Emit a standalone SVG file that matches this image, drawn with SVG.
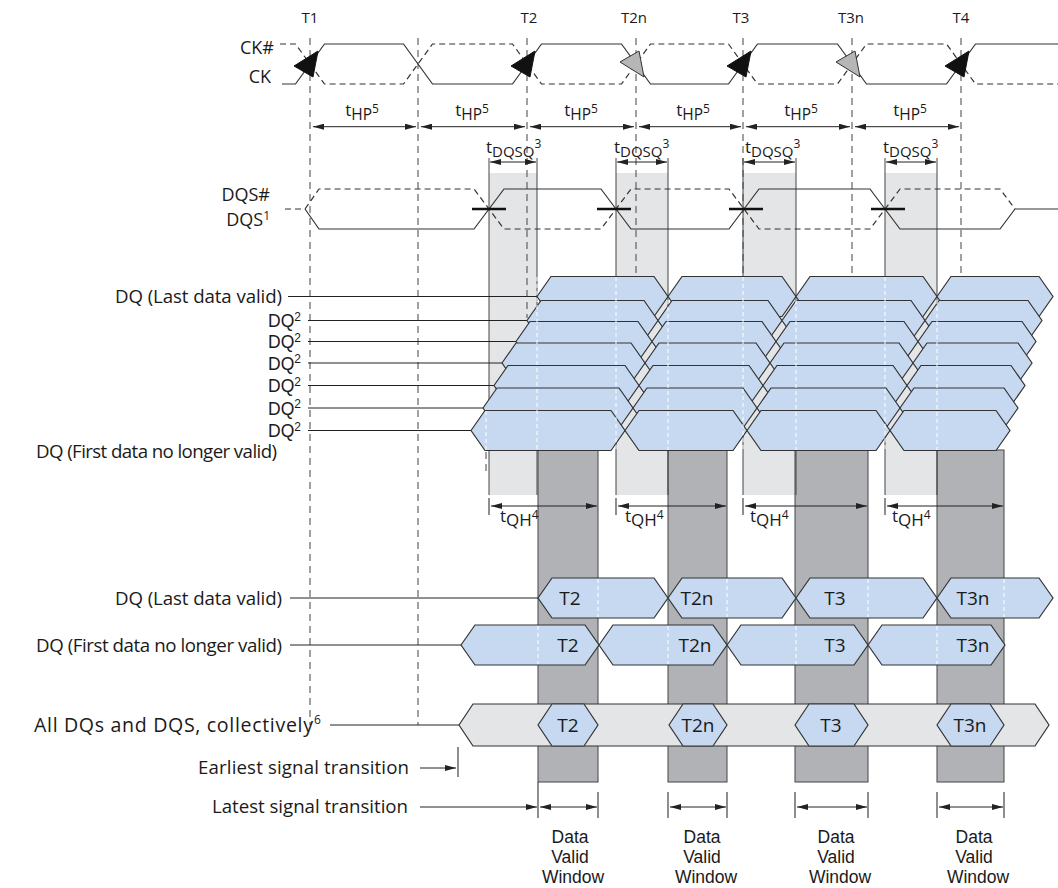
<svg xmlns="http://www.w3.org/2000/svg" width="1058" height="888" viewBox="0 0 1058 888">
<defs>
<style>
.ln{stroke:#333;stroke-width:1.2;fill:none}
.dsh{stroke:#333;stroke-width:1.2;fill:none;stroke-dasharray:6 4}
.vd{stroke:#444;stroke-width:1;fill:none;stroke-dasharray:7 5}
.edge{stroke:#444;stroke-width:1;fill:none}
.lg{fill:#e4e5e7}
.dg{fill:#b1b2b6;stroke:#444;stroke-width:1}
.hx{fill:#c6d9f0;stroke:#333;stroke-width:1.2}
.ghx{fill:#e4e5e7;stroke:#333;stroke-width:1.2}
.wd{stroke:#fff;stroke-width:1;stroke-dasharray:4 3;fill:none}
.ld{stroke:#222;stroke-width:1;fill:none}
.arr{stroke:#222;stroke-width:1;fill:none;marker-start:url(#ah);marker-end:url(#ah)}
.arr1{stroke:#222;stroke-width:1;fill:none;marker-end:url(#ah)}
.tick{stroke:#444;stroke-width:1.2;fill:none}
.lbl{font-family:"Open Sans","Liberation Sans",sans-serif;font-size:18.7px;fill:#1a1a1a}
.big{font-family:"Open Sans","Liberation Sans",sans-serif;font-size:19.6px;fill:#1a1a1a}
.sup{font-family:"Open Sans","Liberation Sans",sans-serif;font-size:12px;fill:#1a1a1a}
.dq2{font-family:"Liberation Sans","Open Sans",sans-serif;font-size:17.5px;fill:#1a1a1a;text-anchor:end}
.ck{font-family:"Open Sans","Liberation Sans",sans-serif;font-size:18px;fill:#1a1a1a;text-anchor:end}
.tl{font-family:"Open Sans","Liberation Sans",sans-serif;font-size:15px;fill:#1a1a1a;text-anchor:middle}
.hl{font-family:"Open Sans","Liberation Sans",sans-serif;font-size:19px;fill:#1a1a1a;text-anchor:middle}
.pm{font-family:"Open Sans","Liberation Sans",sans-serif;font-size:17px;fill:#1a1a1a}
.dvw{font-family:"Liberation Sans","Open Sans",sans-serif;font-size:17.5px;fill:#1a1a1a;text-anchor:middle}
.blk{fill:#111;stroke:#111;stroke-width:1}
.gry{fill:#b5b6b8;stroke:#333;stroke-width:1}
</style>
<marker id="ah" viewBox="0 0 11 6" refX="11" refY="3" markerWidth="11" markerHeight="6" markerUnits="userSpaceOnUse" orient="auto-start-reverse"><path d="M0,0 L11,3 L0,6 z" fill="#222"/></marker>
</defs>
<rect width="1058" height="888" fill="#fff"/>

<g id="shading">
<rect class="lg" x="489" y="173" width="48" height="322"/>
<rect class="lg" x="616" y="173" width="52" height="322"/>
<rect class="lg" x="743" y="173" width="53" height="322"/>
<rect class="lg" x="885" y="173" width="52" height="322"/>
<rect class="dg" x="538" y="450" width="60" height="332"/>
<rect class="dg" x="668" y="450" width="59" height="332"/>
<rect class="dg" x="795" y="450" width="73" height="332"/>
<rect class="dg" x="937" y="450" width="67" height="332"/>
</g>

<g id="gridlines">
<line class="vd" x1="310" y1="38" x2="310" y2="725"/>
<line class="vd" x1="418" y1="38" x2="418" y2="725"/>
<line class="vd" x1="527" y1="38" x2="527" y2="318"/>
<line class="vd" x1="636" y1="38" x2="636" y2="290"/>
<line class="vd" x1="743" y1="38" x2="743" y2="290"/>
<line class="vd" x1="852" y1="38" x2="852" y2="290"/>
<line class="vd" x1="961" y1="38" x2="961" y2="290"/>
<line class="edge" x1="489" y1="158" x2="489" y2="495"/>
<line class="edge" x1="537" y1="158" x2="537" y2="495"/>
<line class="edge" x1="616" y1="158" x2="616" y2="495"/>
<line class="edge" x1="668" y1="158" x2="668" y2="495"/>
<line class="edge" x1="743" y1="158" x2="743" y2="495"/>
<line class="edge" x1="796" y1="158" x2="796" y2="495"/>
<line class="edge" x1="885" y1="158" x2="885" y2="495"/>
<line class="edge" x1="937" y1="158" x2="937" y2="495"/>
<line class="vd" x1="486" y1="452" x2="486" y2="473"/>
</g>

<g id="labels-top">
<text class="tl" x="310" y="23">T1</text>
<text class="tl" x="529" y="23">T2</text>
<text class="tl" x="634" y="23">T2n</text>
<text class="tl" x="741" y="23">T3</text>
<text class="tl" x="851" y="23">T3n</text>
<text class="tl" x="961" y="23">T4</text>
</g>

<g id="clock">
<text class="ck" x="274" y="54">CK#</text>
<text class="ck" x="271" y="83">CK</text>
<path class="ln" d="M282,84 L295.5,84 L324.5,44 L403.5,44 L432.5,84 L512.5,84 L541.5,44 L621.5,44 L650.5,84 L728.5,84 L757.5,44 L837.5,44 L866.5,84 L946.5,84 L975.5,44 L1058,44"/>
<path class="dsh" d="M280,44 L295.5,44 L324.5,84 L403.5,84 L432.5,44 L512.5,44 L541.5,84 L621.5,84 L650.5,44 L728.5,44 L757.5,84 L837.5,84 L866.5,44 L946.5,44 L975.5,84 L1058,84"/>
<path class="blk" d="M318,51 L313,77 L294,66 z"/>
<path class="blk" d="M535,51 L530,77 L511,66 z"/>
<path class="blk" d="M751,51 L746,77 L727,66 z"/>
<path class="blk" d="M969,51 L964,77 L945,66 z"/>
<path class="gry" d="M644,77 L639,51 L620,62 z"/>
<path class="gry" d="M860,77 L855,51 L836,62 z"/>
</g>

<g id="thp">
<line class="arr" x1="313" y1="126.7" x2="416" y2="126.7"/>
<line class="arr" x1="421" y1="126.7" x2="525" y2="126.7"/>
<line class="arr" x1="530" y1="126.7" x2="634" y2="126.7"/>
<line class="arr" x1="639" y1="126.7" x2="741" y2="126.7"/>
<line class="arr" x1="746" y1="126.7" x2="850" y2="126.7"/>
<line class="arr" x1="855" y1="126.7" x2="959" y2="126.7"/>
<text class="pm" x="362" y="116" text-anchor="middle">t<tspan dy="3.5" font-size="15.5">HP</tspan><tspan dy="-6.5" font-size="12">5</tspan></text>
<text class="pm" x="472" y="116" text-anchor="middle">t<tspan dy="3.5" font-size="15.5">HP</tspan><tspan dy="-6.5" font-size="12">5</tspan></text>
<text class="pm" x="581" y="116" text-anchor="middle">t<tspan dy="3.5" font-size="15.5">HP</tspan><tspan dy="-6.5" font-size="12">5</tspan></text>
<text class="pm" x="693" y="116" text-anchor="middle">t<tspan dy="3.5" font-size="15.5">HP</tspan><tspan dy="-6.5" font-size="12">5</tspan></text>
<text class="pm" x="801" y="116" text-anchor="middle">t<tspan dy="3.5" font-size="15.5">HP</tspan><tspan dy="-6.5" font-size="12">5</tspan></text>
<text class="pm" x="910" y="116" text-anchor="middle">t<tspan dy="3.5" font-size="15.5">HP</tspan><tspan dy="-6.5" font-size="12">5</tspan></text>
</g>

<g id="tdqsq">
<line class="arr" x1="490" y1="162" x2="536" y2="162"/>
<line class="arr" x1="617" y1="162" x2="667" y2="162"/>
<line class="arr" x1="744" y1="162" x2="795" y2="162"/>
<line class="arr" x1="886" y1="162" x2="936" y2="162"/>
<text class="pm" x="486" y="153">t<tspan dy="3.5" font-size="15">DQSQ</tspan><tspan dy="-8.5" font-size="12">3</tspan></text>
<text class="pm" x="614" y="153">t<tspan dy="3.5" font-size="15">DQSQ</tspan><tspan dy="-8.5" font-size="12">3</tspan></text>
<text class="pm" x="745" y="153">t<tspan dy="3.5" font-size="15">DQSQ</tspan><tspan dy="-8.5" font-size="12">3</tspan></text>
<text class="pm" x="883" y="153">t<tspan dy="3.5" font-size="15">DQSQ</tspan><tspan dy="-8.5" font-size="12">3</tspan></text>
</g>

<g id="dqs">
<text class="ck" x="270" y="201">DQS#</text>
<text class="ck" x="270" y="226">DQS<tspan dy="-6.5" font-size="12">1</tspan></text>
<path class="ln" d="M305,209 L319,229 L474,229 L504,189 L601,189 L631,229 L729,229 L759,189 L870,189 L900,229 L1000,229 L1015,209 L1058,209"/>
<path class="dsh" d="M285,209 L305,209 L319,189 L474,189 L504,229 L601,229 L631,189 L729,189 L759,229 L870,229 L900,189 L1000,189 L1015,209"/>
<g stroke="#111" stroke-width="2.5">
<line x1="472" y1="209" x2="506" y2="209"/>
<line x1="597" y1="209" x2="631" y2="209"/>
<line x1="729" y1="209" x2="763" y2="209"/>
<line x1="871" y1="209" x2="905" y2="209"/>
</g>
</g>

<g id="dq-stack">
<g class="ld">
<line x1="288" y1="296.5" x2="537" y2="296.5"/>
<line x1="308" y1="320.5" x2="527" y2="320.5"/>
<line x1="308" y1="341.5" x2="516" y2="341.5"/>
<line x1="308" y1="363" x2="502" y2="363"/>
<line x1="308" y1="385.5" x2="494" y2="385.5"/>
<line x1="308" y1="408" x2="483" y2="408"/>
<line x1="308" y1="430.5" x2="471" y2="430.5"/>
</g>
<g id="dq-row0">
<polygon class="hx" points="537,296.5 551,276.5 654,276.5 668,296.5 654,316.5 551,316.5"/>
<polygon class="hx" points="668,296.5 682,276.5 782,276.5 796,296.5 782,316.5 682,316.5"/>
<polygon class="hx" points="796,296.5 810,276.5 923,276.5 937,296.5 923,316.5 810,316.5"/>
<polygon class="hx" points="937,296.5 951,276.5 1039,276.5 1053,296.5 1039,316.5 951,316.5"/>
</g>
<g id="dq-row1">
<polygon class="hx" points="527,320.5 541,300.5 644,300.5 658,320.5 644,340.5 541,340.5"/>
<polygon class="hx" points="658,320.5 672,300.5 768,300.5 782,320.5 768,340.5 672,340.5"/>
<polygon class="hx" points="782,320.5 796,300.5 911,300.5 925,320.5 911,340.5 796,340.5"/>
<polygon class="hx" points="925,320.5 939,300.5 1028,300.5 1042,320.5 1028,340.5 939,340.5"/>
</g>
<g id="dq-row2">
<polygon class="hx" points="516,341.5 530,321.5 638,321.5 652,341.5 638,361.5 530,361.5"/>
<polygon class="hx" points="652,341.5 666,321.5 762,321.5 776,341.5 762,361.5 666,361.5"/>
<polygon class="hx" points="776,341.5 790,321.5 904,321.5 918,341.5 904,361.5 790,361.5"/>
<polygon class="hx" points="918,341.5 932,321.5 1022,321.5 1036,341.5 1022,361.5 932,361.5"/>
</g>
<g id="dq-row3">
<polygon class="hx" points="502,363 516,343 631,343 645,363 631,383 516,383"/>
<polygon class="hx" points="645,363 659,343 756,343 770,363 756,383 659,383"/>
<polygon class="hx" points="770,363 784,343 899,343 913,363 899,383 784,383"/>
<polygon class="hx" points="913,363 927,343 1018,343 1032,363 1018,383 927,383"/>
</g>
<g id="dq-row4">
<polygon class="hx" points="494,385.5 508,365.5 625,365.5 639,385.5 625,405.5 508,405.5"/>
<polygon class="hx" points="639,385.5 653,365.5 749,365.5 763,385.5 749,405.5 653,405.5"/>
<polygon class="hx" points="763,385.5 777,365.5 893,365.5 907,385.5 893,405.5 777,405.5"/>
<polygon class="hx" points="907,385.5 921,365.5 1011,365.5 1025,385.5 1011,405.5 921,405.5"/>
</g>
<g id="dq-row5">
<polygon class="hx" points="483,408 497,388 619,388 633,408 619,428 497,428"/>
<polygon class="hx" points="633,408 647,388 743,388 757,408 743,428 647,428"/>
<polygon class="hx" points="757,408 771,388 886,388 900,408 886,428 771,428"/>
<polygon class="hx" points="900,408 914,388 1004,388 1018,408 1004,428 914,428"/>
</g>
<g id="dq-row6">
<polygon class="hx" points="471,430.5 485,410.5 611,410.5 625,430.5 611,450.5 485,450.5"/>
<polygon class="hx" points="625,430.5 639,410.5 733,410.5 747,430.5 733,450.5 639,450.5"/>
<polygon class="hx" points="747,430.5 761,410.5 876,410.5 890,430.5 876,450.5 761,450.5"/>
<polygon class="hx" points="890,430.5 904,410.5 996,410.5 1010,430.5 996,450.5 904,450.5"/>
</g>
<g class="wd">
<line x1="486" y1="411" x2="486" y2="450"/>
<line x1="537" y1="277" x2="537" y2="450"/>
<line x1="616" y1="277" x2="616" y2="450"/>
<line x1="668" y1="300" x2="668" y2="450"/>
<line x1="743" y1="277" x2="743" y2="450"/>
<line x1="796" y1="300" x2="796" y2="450"/>
<line x1="885" y1="277" x2="885" y2="450"/>
<line x1="937" y1="300" x2="937" y2="450"/>
</g>
<text class="lbl" x="282" y="303" text-anchor="end" textLength="167" lengthAdjust="spacing">DQ (Last data valid)</text>
<text class="dq2" x="301" y="327">DQ<tspan dy="-6.5" font-size="12">2</tspan></text>
<text class="dq2" x="301" y="348">DQ<tspan dy="-6.5" font-size="12">2</tspan></text>
<text class="dq2" x="301" y="369.5">DQ<tspan dy="-6.5" font-size="12">2</tspan></text>
<text class="dq2" x="301" y="392">DQ<tspan dy="-6.5" font-size="12">2</tspan></text>
<text class="dq2" x="301" y="414.5">DQ<tspan dy="-6.5" font-size="12">2</tspan></text>
<text class="dq2" x="301" y="437">DQ<tspan dy="-6.5" font-size="12">2</tspan></text>
<text class="lbl" x="277" y="458" text-anchor="end" textLength="241" lengthAdjust="spacing">DQ (First data no longer valid)</text>
</g>

<g id="tqh">
<line class="tick" x1="489" y1="498" x2="489" y2="515"/>
<line class="tick" x1="616" y1="498" x2="616" y2="515"/>
<line class="tick" x1="743" y1="498" x2="743" y2="515"/>
<line class="tick" x1="885" y1="498" x2="885" y2="515"/>
<line class="arr" x1="491" y1="506" x2="597" y2="506"/>
<line class="arr" x1="618" y1="506" x2="726" y2="506"/>
<line class="arr" x1="745" y1="506" x2="867" y2="506"/>
<line class="arr" x1="887" y1="506" x2="1003" y2="506"/>
<text class="pm" x="500" y="521.5">t<tspan dy="4.5" font-size="17">QH</tspan><tspan dy="-7.5" font-size="12">4</tspan></text>
<text class="pm" x="625" y="521.5">t<tspan dy="4.5" font-size="17">QH</tspan><tspan dy="-7.5" font-size="12">4</tspan></text>
<text class="pm" x="750" y="521.5">t<tspan dy="4.5" font-size="17">QH</tspan><tspan dy="-7.5" font-size="12">4</tspan></text>
<text class="pm" x="892" y="521.5">t<tspan dy="4.5" font-size="17">QH</tspan><tspan dy="-7.5" font-size="12">4</tspan></text>
</g>

<g id="row-last">
<line class="ld" x1="290" y1="598" x2="538" y2="598"/>
<polygon class="hx" points="538,598 552,578 654,578 668,598 654,618 552,618"/>
<polygon class="hx" points="668,598 682,578 782,578 796,598 782,618 682,618"/>
<polygon class="hx" points="796,598 810,578 923,578 937,598 923,618 810,618"/>
<polygon class="hx" points="937,598 951,578 1039,578 1053,598 1039,618 951,618"/>
<text class="lbl" x="282" y="604.5" text-anchor="end" textLength="167" lengthAdjust="spacing">DQ (Last data valid)</text>
</g>
<g id="row-first">
<line class="ld" x1="290" y1="645" x2="461" y2="645"/>
<polygon class="hx" points="461,645 475,625 585,625 599,645 585,665 475,665"/>
<polygon class="hx" points="599,645 613,625 713,625 727,645 713,665 613,665"/>
<polygon class="hx" points="727,645 741,625 854,625 868,645 854,665 741,665"/>
<polygon class="hx" points="868,645 882,625 991,625 1005,645 991,665 882,665"/>
<text class="lbl" x="282" y="651.5" text-anchor="end" textLength="246" lengthAdjust="spacing">DQ (First data no longer valid)</text>
</g>
<g id="row-all">
<line class="ld" x1="330" y1="725" x2="459" y2="725"/>
<polygon class="ghx" points="459,725 473,704 1035,704 1049,725 1035,746 473,746"/>
<polygon class="hx" points="538,725 552,704 584,704 598,725 584,746 552,746"/>
<polygon class="hx" points="669,725 683,704 713,704 727,725 713,746 683,746"/>
<polygon class="hx" points="795,725 809,704 854,704 868,725 854,746 809,746"/>
<polygon class="hx" points="937,725 951,704 990,704 1004,725 990,746 951,746"/>
<text class="big" x="313" y="731.5" text-anchor="end" textLength="279" lengthAdjust="spacing">All DQs and DQS, collectively</text>
<text class="sup" x="314" y="724">6</text>
</g>
<g class="wd">
<line x1="598" y1="579" x2="598" y2="617"/>
<line x1="727" y1="579" x2="727" y2="617"/>
<line x1="868" y1="579" x2="868" y2="617"/>
<line x1="1004" y1="579" x2="1004" y2="617"/>
<line x1="538" y1="626" x2="538" y2="664"/>
<line x1="668" y1="626" x2="668" y2="664"/>
<line x1="796" y1="626" x2="796" y2="664"/>
<line x1="937" y1="626" x2="937" y2="664"/>
</g>
<g id="row-texts">
<text class="hl" x="570" y="605">T2</text>
<text class="hl" x="697" y="605">T2n</text>
<text class="hl" x="835" y="605">T3</text>
<text class="hl" x="973" y="605">T3n</text>
<text class="hl" x="568" y="652">T2</text>
<text class="hl" x="695" y="652">T2n</text>
<text class="hl" x="835" y="652">T3</text>
<text class="hl" x="973" y="652">T3n</text>
<text class="hl" x="568" y="732">T2</text>
<text class="hl" x="698" y="732">T2n</text>
<text class="hl" x="831" y="732">T3</text>
<text class="hl" x="970" y="732">T3n</text>
</g>

<g id="bottom">
<text class="lbl" x="409" y="773.5" text-anchor="end" textLength="211" lengthAdjust="spacing">Earliest signal transition</text>
<line class="arr1" x1="420" y1="768" x2="456" y2="768"/>
<line class="tick" x1="458" y1="747" x2="458" y2="777"/>
<text class="lbl" x="408" y="812.5" text-anchor="end" textLength="196" lengthAdjust="spacing">Latest signal transition</text>
<line class="arr1" x1="420" y1="807" x2="537" y2="807"/>
<line class="tick" x1="538" y1="782" x2="538" y2="818"/>
<line class="tick" x1="598" y1="792" x2="598" y2="818"/>
<line class="tick" x1="668" y1="792" x2="668" y2="818"/>
<line class="tick" x1="727" y1="792" x2="727" y2="818"/>
<line class="tick" x1="795" y1="792" x2="795" y2="818"/>
<line class="tick" x1="868" y1="792" x2="868" y2="818"/>
<line class="tick" x1="937" y1="792" x2="937" y2="818"/>
<line class="tick" x1="1004" y1="792" x2="1004" y2="818"/>
<line class="arr" x1="540" y1="807" x2="597" y2="807"/>
<line class="arr" x1="670" y1="807" x2="726" y2="807"/>
<line class="arr" x1="797" y1="807" x2="867" y2="807"/>
<line class="arr" x1="939" y1="807" x2="1003" y2="807"/>
<text class="dvw" x="570" y="843">Data</text>
<text class="dvw" x="570" y="863">Valid</text>
<text class="dvw" x="573" y="883">Window</text>
<text class="dvw" x="702" y="843">Data</text>
<text class="dvw" x="702" y="863">Valid</text>
<text class="dvw" x="706" y="883">Window</text>
<text class="dvw" x="836" y="843">Data</text>
<text class="dvw" x="836" y="863">Valid</text>
<text class="dvw" x="840" y="883">Window</text>
<text class="dvw" x="974" y="843">Data</text>
<text class="dvw" x="974" y="863">Valid</text>
<text class="dvw" x="978" y="883">Window</text>
</g>
</svg>
